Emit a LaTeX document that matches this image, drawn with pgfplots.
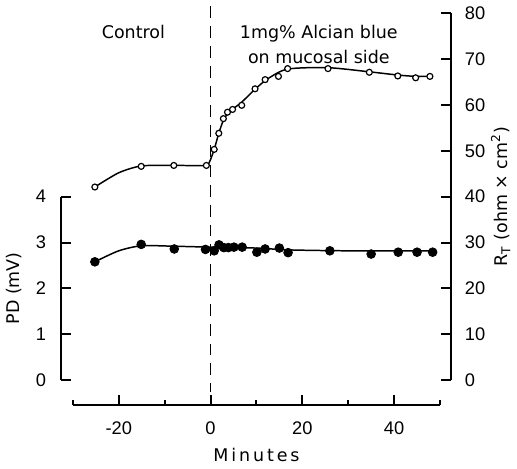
\documentclass[border=0pt]{standalone}
\usepackage{pgfplots}
\pgfplotsset{compat=1.18}
\usepackage{fontspec}
\setmainfont{Liberation Sans}
\newfontfamily\lblfont{DejaVu Sans}

\pgfplotsset{
  base/.style={
    x=2.3125pt,
    xmin=-32.6, xmax=52.4,
    anchor=origin, at={(0,0)},
    axis line style={line width=1pt,-},
    every tick/.style={black,line width=1pt},
    tick align=inside,
    major tick length=5pt,
    minor tick length=2.5pt,
    tick label style={font=\fontsize{9.2}{11}\selectfont},
    label style={font=\lblfont\fontsize{8.8}{10}\selectfont},
    /pgf/number format/assume math mode=true,
    clip=false,
  }
}

\begin{document}
\begin{tikzpicture}
% right axis: R_T
\begin{axis}[base,
  y=2.3125pt, ymin=0, ymax=80,
  axis x line=none, axis y line*=right,
  ytick={0,10,...,80},
  yticklabel style={xshift=3.5pt},
  ylabel={R\textsubscript{T} (ohm × cm\textsuperscript{2})},
  ylabel shift=-4pt,
]
\addplot[black, line width=0.9pt, dash pattern=on 6pt off 4pt] coordinates {(0,81.5) (0,-2.5)};
\addplot[black, line width=0.75pt, smooth, tension=0.45] coordinates {
  (-25.2,42.1) (-20,45.2) (-15,46.7) (-8,46.8) (-1.2,46.8) (-0.3,47.4) (0.8,50.3)
  (1.8,53.8) (2.8,56.6) (4,58.4) (6.8,60.6) (9.7,63.4) (12.5,65.7) (16.8,67.8)
  (25.6,68.1) (34.6,67.2) (40.8,66.5) (44.7,66.2) (47.8,66.2)
};
\addplot[only marks, mark=*, mark size=1.5pt, mark options={fill=white, draw=black, line width=0.6pt}] coordinates {
  (-25.2,42.1) (-15.1,46.6) (-8.0,46.8) (-0.9,46.8) (0.8,50.3) (1.8,53.8) (2.8,57.0)
  (3.7,58.4) (4.8,59.0) (6.8,59.9) (9.7,63.5) (11.9,65.5) (14.8,66.2) (16.8,67.9)
  (25.6,67.9) (34.6,67.1) (40.8,66.3) (44.7,65.9) (47.8,66.2)
};
\node[font=\lblfont\fontsize{8.8}{10}\selectfont] at (axis cs:-16.8,75.9) {Control};
\node[font=\lblfont\fontsize{8.8}{12.5}\selectfont, align=center] at (axis cs:23.6,73.2) {1mg\% Alcian blue\\on mucosal side};
\end{axis}
% left axis: PD
\begin{axis}[base,
  y=23.125pt, ymin=0, ymax=4,
  axis x line=none, axis y line*=left,
  ytick={0,1,2,3,4},
  yticklabel style={xshift=-4pt},
  ylabel={PD (mV)},
]
\addplot[black, line width=0.75pt, smooth, tension=0.45] coordinates {
  (-25.2,2.58) (-20,2.82) (-15,2.93) (-8,2.92) (0,2.9) (10,2.88) (17,2.84) (30,2.82) (48.4,2.82)
};
\addplot[only marks, mark=*, mark size=2.2pt, black] coordinates {
  (-25.2,2.58) (-15.1,2.96) (-7.9,2.86) (-1.1,2.85) (0.8,2.82) (1.85,2.95) (2.9,2.89)
  (3.9,2.89) (5.1,2.90) (6.9,2.90) (10.1,2.79) (11.9,2.86) (15.0,2.88) (16.9,2.78)
  (26.0,2.82) (35.0,2.75) (40.9,2.79) (45.0,2.79) (48.4,2.79)
};
\end{axis}
% bottom axis: minutes
\begin{axis}[base,
  at={(0,-12.5pt)},
  xmin=-30, xmax=50,
  y=1pt, ymin=0, ymax=1,
  axis y line=none, axis x line*=bottom,
  xtick={-20,0,20,40},
  minor xtick={-30,-10,10,30,50},
  xticklabel style={yshift=-5pt},
  xlabel={M\,i\,n\,u\,t\,e\,s},
]
\end{axis}
\end{tikzpicture}
\end{document}
